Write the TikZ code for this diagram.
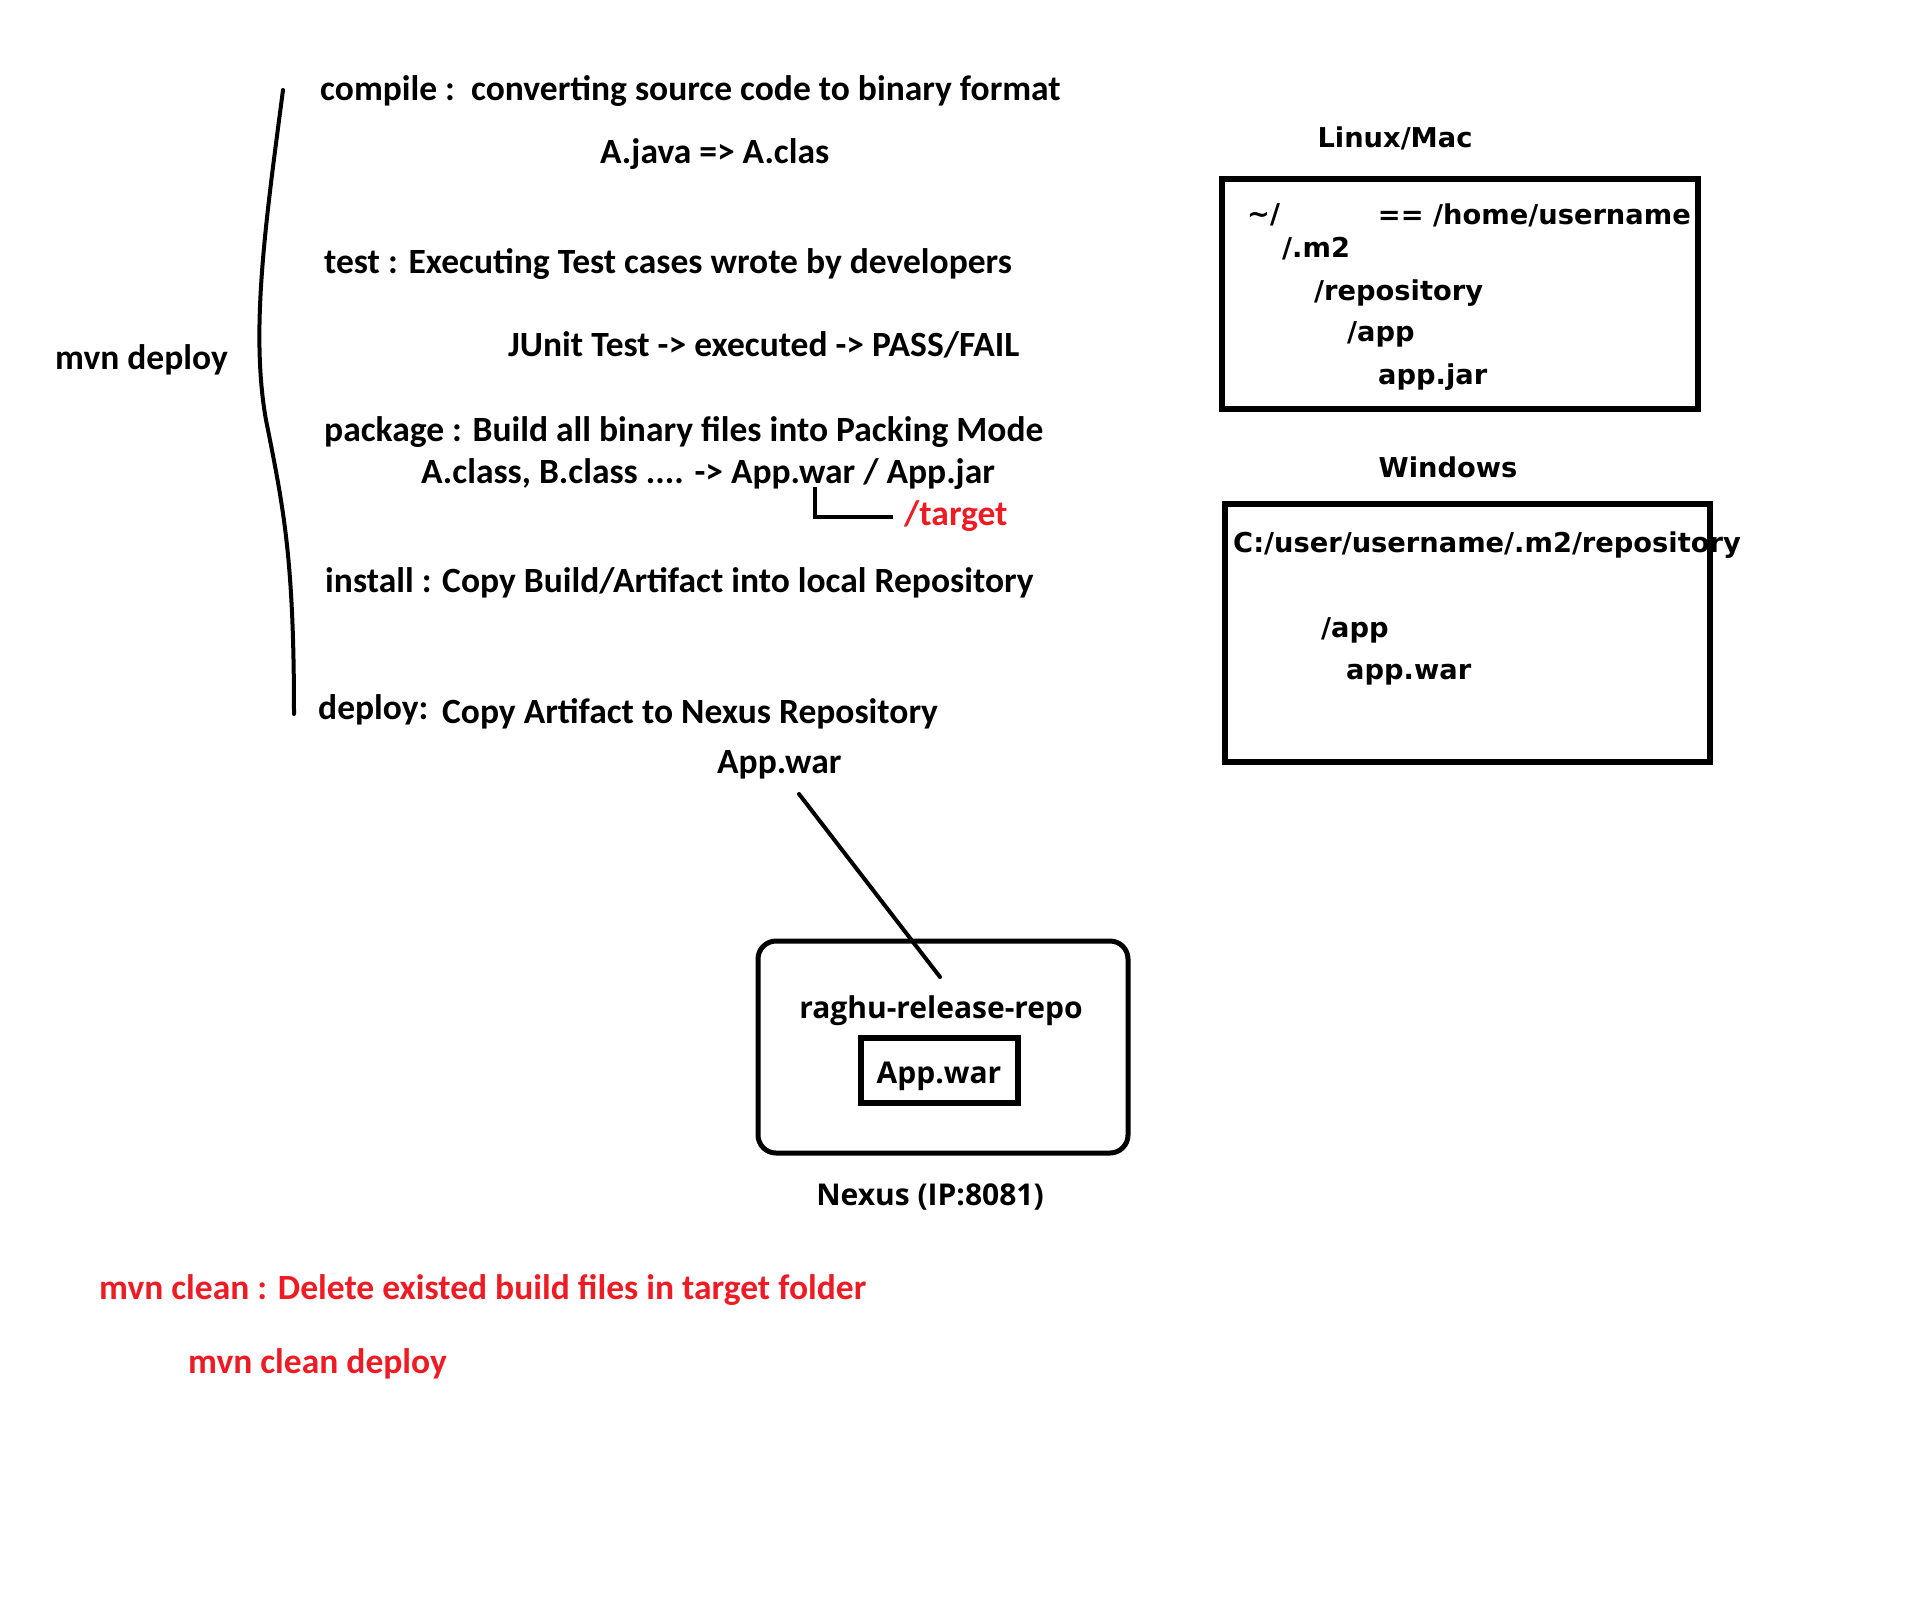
\documentclass[tikz,border=0pt]{standalone}
\usepackage{fontspec}
\setmainfont{Carlito}
\newfontfamily\pathfont{DejaVu Sans}
\newfontfamily\nexfont{Open Sans}
\definecolor{paintred}{RGB}{237,28,36}
\tikzset{
	note/.style = {anchor = west, inner sep = 0pt, font = \fontsize{35.5}{40}\selectfont\bfseries},
	rednote/.style = {note, text = paintred},
	pathhead/.style = {inner sep = 0pt, font = \fontsize{27.3}{32}\pathfont\bfseries},
	pathnote/.style = {pathhead, anchor = west},
	nexnote/.style = {inner sep = 0pt, font = \fontsize{30}{36}\nexfont\bfseries},
	folderbox/.style = {draw, line width = 5.5pt},
}
\begin{document}
\begin{tikzpicture}[x = 1pt, y = -1pt]
		\useasboundingbox (0, 0) rectangle (1924, 1604);
		%%%%%%%%%%%%%
		\node[note] (mvn) at (55, 360) {mvn deploy};
		\draw [line width = 4pt, line cap = round] (283, 90) .. controls (266, 220) and (250, 330) .. (266, 420) .. controls (284, 510) and (294, 560) .. (294, 714);
		%%%%%%%%%%%%%
		\node[note] (compile) at (320, 91) {compile :\ \ converting source code to binary format};
		\node[note] (ajava) at (600, 154) {A.java => A.clas};
		\node[note] (test) at (324, 264) {test : Executing Test cases wrote by developers};
		\node[note] (junit) at (508, 345) {JUnit Test -> executed -> PASS/FAIL};
		\node[note] (package) at (324, 432) {package : Build all binary files into Packing Mode};
		\node[note] (classes) at (421, 474) {A.class, B.class .... -> App.war / App.jar};
		\node[rednote] (target) at (904, 516) {/target};
		\node[note] (install) at (325, 583) {install : Copy Build/Artifact into local Repository};
		\node[note] (deploy) at (318, 710) {deploy:};
		\node[note] (nexcopy) at (442, 714) {Copy Artifact to Nexus Repository};
		\node[note] (appwar) at (717, 765) {App.war};
		%%%%%%%%%%%%%
		\coordinate (warfoot) at (815, 487);
		\coordinate (targetend) at (893, 517);
		\draw [line width = 4pt] (warfoot) |- (targetend);
		%%%%%%%%%%%%%
		\draw [line width = 5pt, rounded corners = 18pt] (758, 941) rectangle (1128, 1153);
		\node[nexnote] (repo) at (941, 1011) {raghu-release-repo};
		\draw [folderbox] (861, 1038) rectangle (1018, 1103);
		\node[nexnote] (warbox) at (939, 1076) {App.war};
		\node[nexnote] (nexus) at (930, 1197) {Nexus (IP:8081)};
		\coordinate (linetop) at (799, 794);
		\coordinate (repohit) at (940, 977);
		\draw [line width = 4pt, line cap = round] (linetop) -- (repohit);
		%%%%%%%%%%%%%
		\node[rednote] (clean) at (99, 1290) {mvn clean : Delete existed build files in target folder};
		\node[rednote] (cleandeploy) at (188, 1364) {mvn clean deploy};
		%%%%%%%%%%%%%
		\node[pathhead] (linux) at (1395, 138) {Linux/Mac};
		\draw [folderbox] (1222, 179) rectangle (1698, 409);
		\node[pathnote] (home) at (1247, 215) {\textasciitilde/};
		\node[pathnote, anchor = east] (homeeq) at (1691, 215) {== /home/username};
		\node[pathnote] (mtwo) at (1282, 249) {/.m2};
		\node[pathnote] (repodir) at (1314, 293) {/repository};
		\node[pathnote] (appdir) at (1347, 334) {/app};
		\node[pathnote] (appjar) at (1378, 377) {app.jar};
		%%%%%%%%%%%%%
		\node[pathhead] (windows) at (1448, 467) {Windows};
		\draw [folderbox] (1225, 504) rectangle (1710, 762);
		\node[pathnote] (winpath) at (1233, 545) {C:/user/username/.m2/repository};
		\node[pathnote] (winapp) at (1321, 630) {/app};
		\node[pathnote] (winwar) at (1346, 675) {app.war};
		%%%%%%%%%%%%%%
	\end{tikzpicture}
\end{document}
